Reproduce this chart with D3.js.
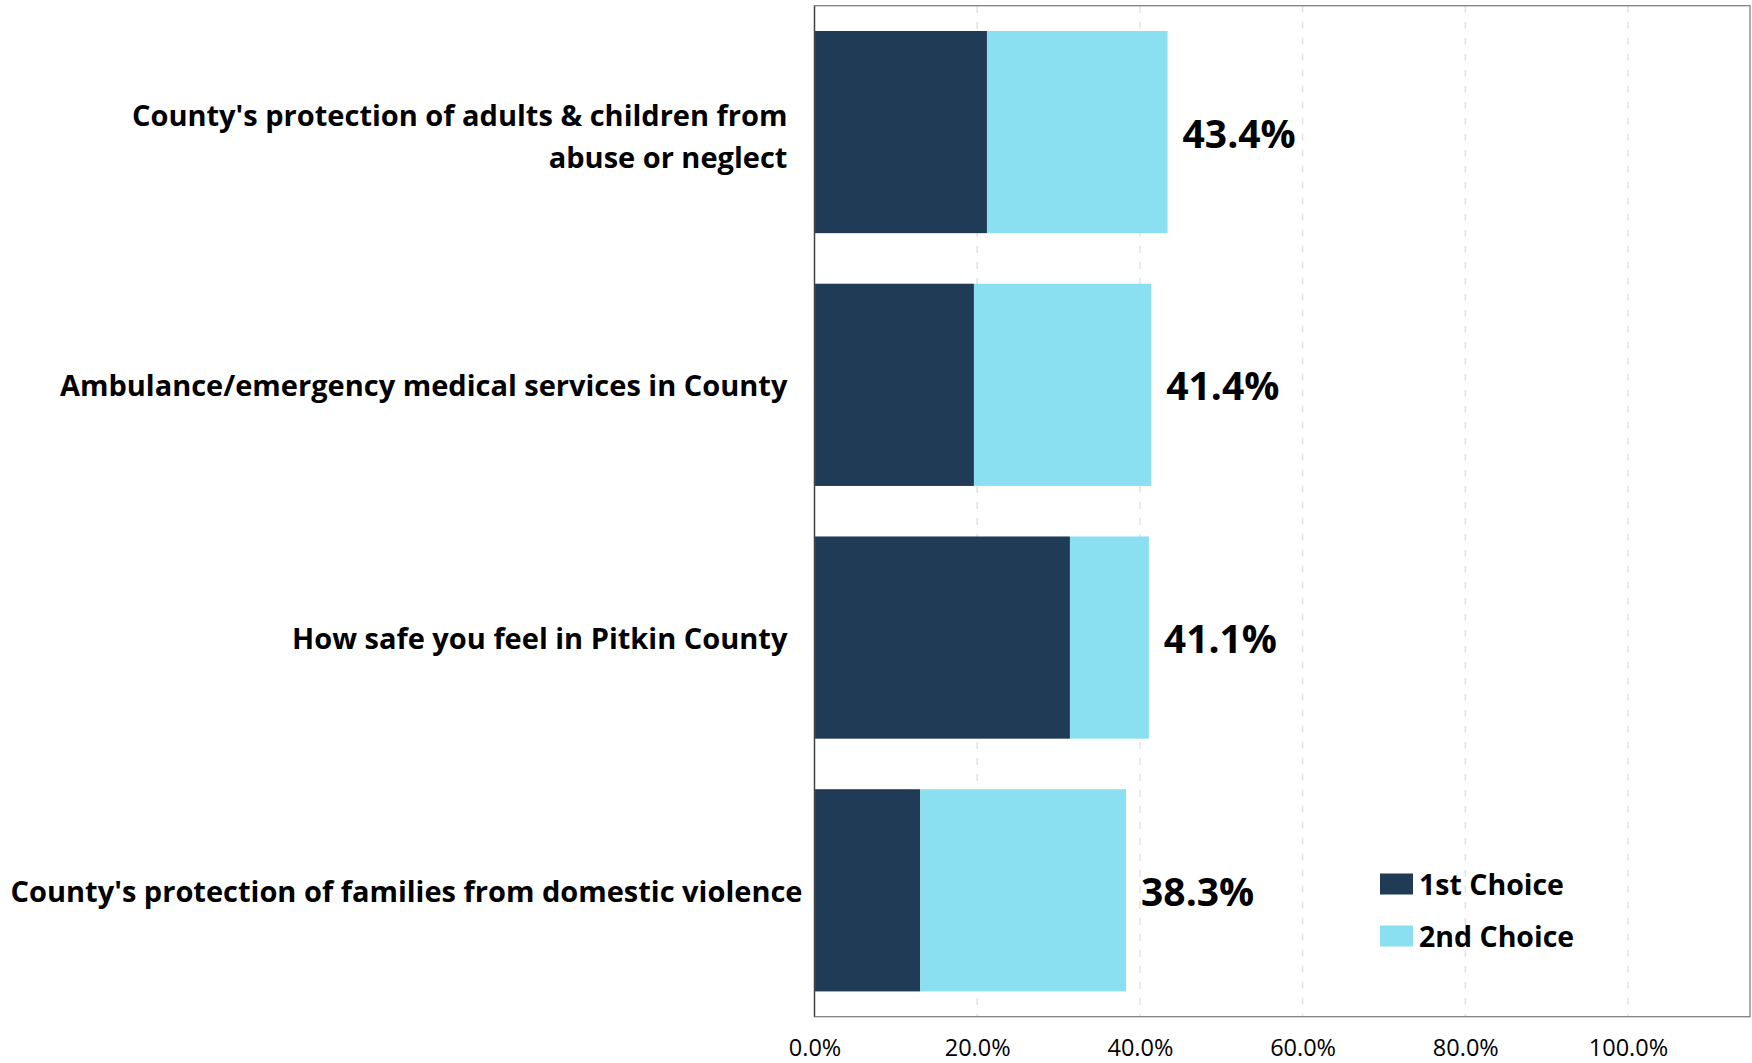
<!DOCTYPE html>
<html>
<head>
<meta charset="utf-8">
<script src="https://cdn.jsdelivr.net/npm/d3@7"></script>
<style>
  html, body { margin: 0; padding: 0; background: #fff; }
  svg { display: block; font-family: "Open Sans", "Noto Sans", sans-serif; }
  text { white-space: pre; }
</style>
</head>
<body>
<svg id="chart" width="1752" height="1063"></svg>
<script>
// Survey items (top to bottom); "\n" marks a line break, trailing spaces kept as in the source sheet
const categories = [
  "County's protection of adults & children from  \nabuse or neglect  ",
  "Ambulance/emergency medical services in County  ",
  "How safe you feel in Pitkin County  ",
  "County's protection of families from domestic violence"
];
const firstChoice  = [0.212, 0.196, 0.314, 0.130];
const secondChoice = [0.222, 0.218, 0.097, 0.253];
const totalLabels  = ["43.4%", "41.4%", "41.1%", "38.3%"];
const seriesNames  = ["1st Choice", "2nd Choice"];
const tickValues   = [0, 0.2, 0.4, 0.6, 0.8, 1.0];

const colors = ["#1f3b56", "#8ae0f0"];

const svg = d3.select("#chart");
const plot = { left: 814.5, top: 5.7, right: 1750, bottom: 1016.7 };

const x = d3.scaleLinear().domain([0, 1.15]).range([plot.left, plot.right]);
const y = d3.scaleBand().domain(d3.range(categories.length))
  .range([plot.top, plot.bottom]).paddingInner(0.2).paddingOuter(0.1);

// dashed vertical gridlines
svg.append("g").selectAll("line").data(tickValues.slice(1)).join("line")
  .attr("x1", d => x(d)).attr("x2", d => x(d))
  .attr("y1", plot.top).attr("y2", plot.bottom)
  .attr("stroke", "#e3e3e3").attr("stroke-width", 1.5)
  .attr("stroke-dasharray", "7,9");

// stacked bars
const stackData = categories.map((c, i) => ({ i, a: firstChoice[i], b: secondChoice[i] }));
const stack = d3.stack().keys(["a", "b"])(stackData);
svg.append("g").selectAll("g").data(stack).join("g")
  .attr("fill", (d, k) => colors[k])
  .selectAll("rect").data(d => d).join("rect")
    .attr("x", d => x(d[0]))
    .attr("width", d => x(d[1]) - x(d[0]))
    .attr("y", d => y(d.data.i))
    .attr("height", y.bandwidth());

// plot frame
svg.append("rect")
  .attr("x", plot.left).attr("y", plot.top)
  .attr("width", plot.right - plot.left).attr("height", plot.bottom - plot.top)
  .attr("fill", "none").attr("stroke", "#808080").attr("stroke-width", 1.3);
svg.append("line")
  .attr("x1", plot.left).attr("x2", plot.left)
  .attr("y1", plot.top).attr("y2", plot.bottom)
  .attr("stroke", "#404040").attr("stroke-width", 1.3);

// bottom axis labels
const xAxis = d3.axisBottom(x).tickValues(tickValues)
  .tickFormat(d3.format(".1%")).tickSize(0).tickPadding(0);
const ax = svg.append("g").attr("transform", `translate(0,${plot.bottom})`).call(xAxis);
ax.select(".domain").remove();
ax.selectAll("text")
  .attr("y", 31).attr("dy", "0.35em")
  .attr("font-family", "'Open Sans', sans-serif")
  .attr("font-size", 23.5).attr("fill", "#000");

// total labels at bar ends
svg.append("g").selectAll("text").data(stackData).join("text")
  .attr("x", d => x(d.a + d.b) + 15)
  .attr("y", d => y(d.i) + y.bandwidth() / 2 + 1.5)
  .attr("dy", "0.36em")
  .attr("font-size", 39).attr("font-weight", 700).attr("fill", "#000")
  .text(d => totalLabels[d.i]);

// category labels, right aligned against the axis
const lineGap = 42;
const catG = svg.append("g");
categories.forEach((c, i) => {
  const lines = c.split("\n");
  const cy = y(i) + y.bandwidth() / 2 + (lines.length > 1 ? 4 : 1);
  const t = catG.append("text")
    .attr("text-anchor", "end")
    .attr("font-size", 29).attr("font-weight", 700).attr("fill", "#000");
  lines.forEach((ln, k) => {
    t.append("tspan")
      .attr("x", 802.5)
      .attr("y", cy + (k - (lines.length - 1) / 2) * lineGap)
      .attr("dy", "0.36em")
      .text(ln);
  });
});

// legend
const lg = svg.append("g");
seriesNames.forEach((s, k) => {
  const cy = 884 + k * 52;
  lg.append("rect").attr("x", 1380).attr("y", cy - 10.5)
    .attr("width", 33).attr("height", 21).attr("fill", colors[k]);
  lg.append("text").attr("x", 1419).attr("y", cy + 1).attr("dy", "0.36em")
    .attr("font-size", 28.5).attr("font-weight", 700).attr("fill", "#000")
    .text(s);
});
</script>
</body>
</html>
